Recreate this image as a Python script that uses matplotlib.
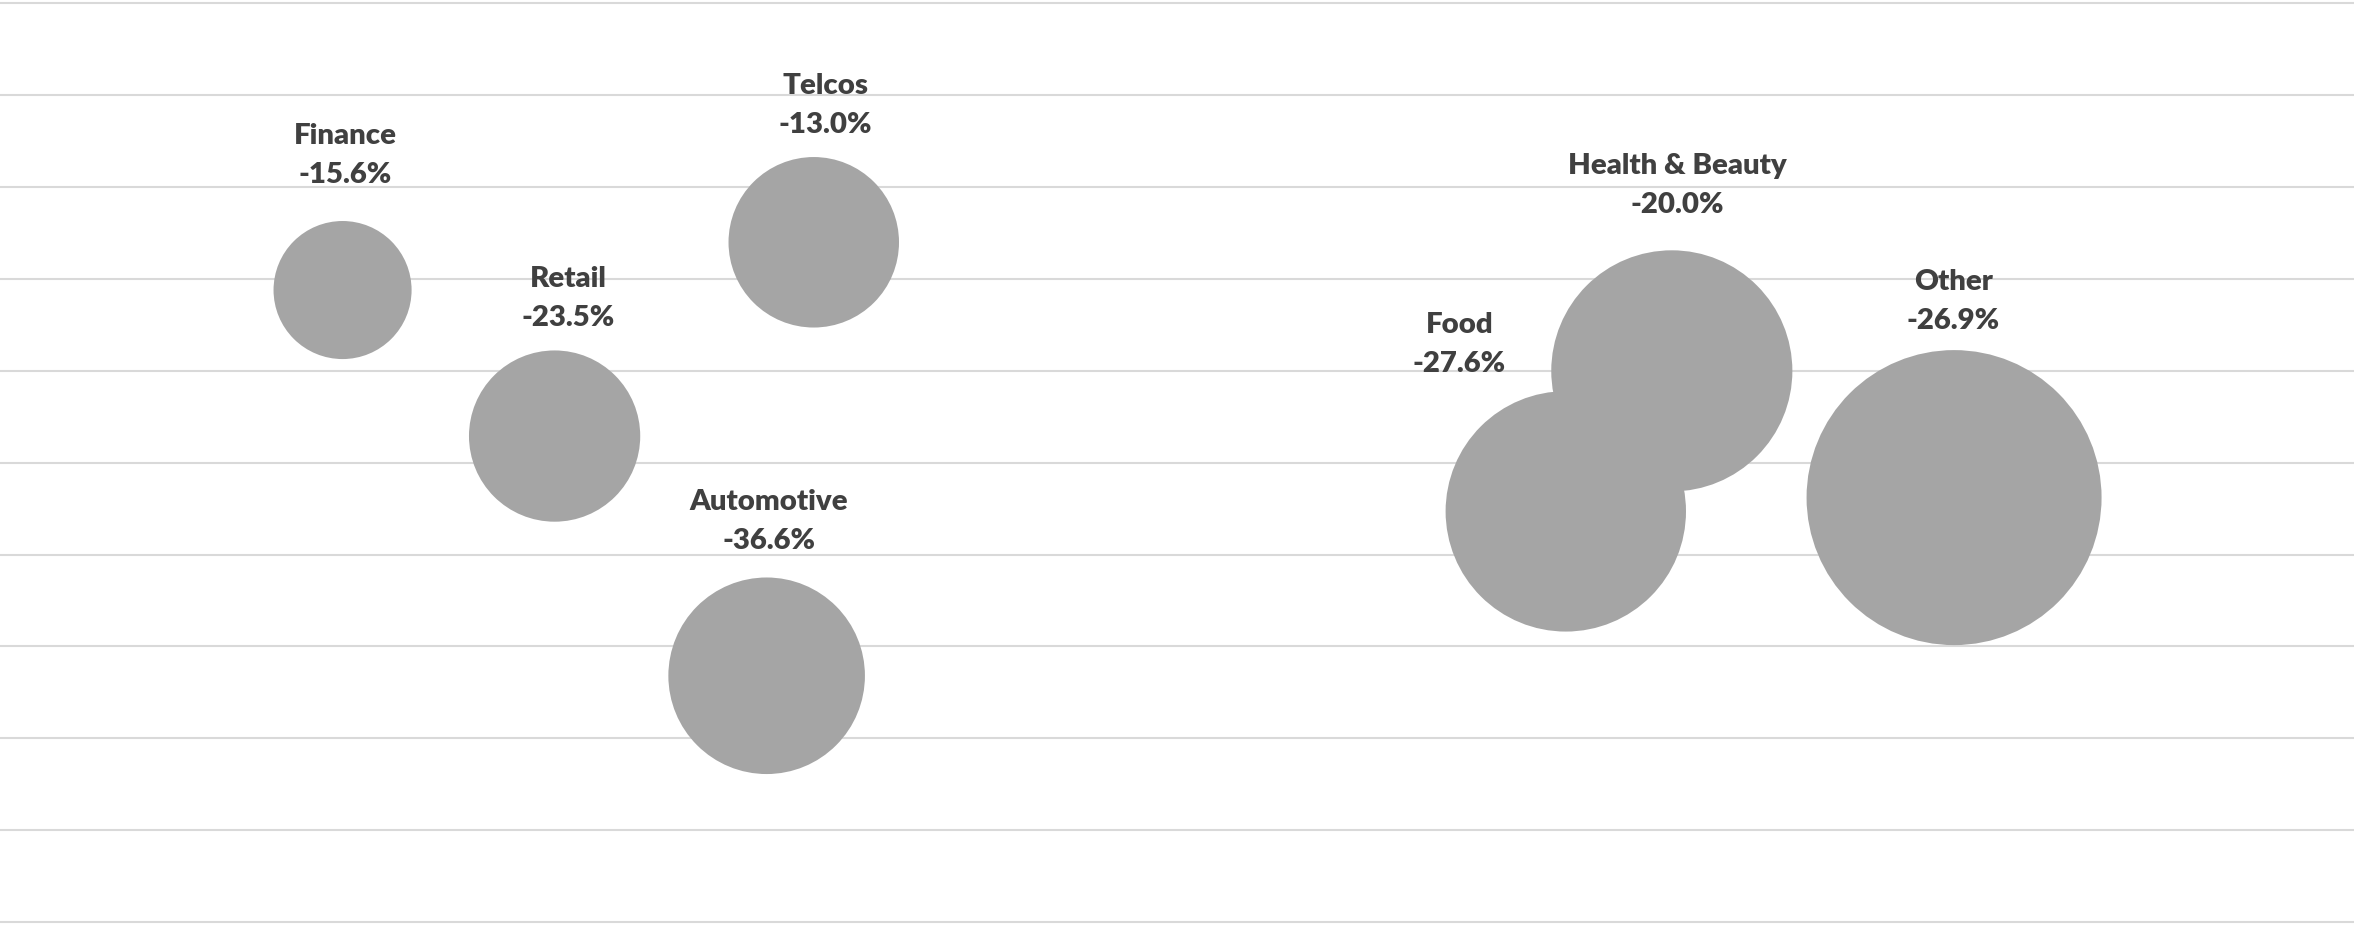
import matplotlib
matplotlib.use("Agg")
import matplotlib.pyplot as plt

# ---- data ----
categories = ["Finance", "Retail", "Telcos", "Automotive", "Food", "Health & Beauty", "Other"]
x_vals = [14.54, 23.54, 34.54, 32.54, 66.46, 70.96, 82.94]
y_vals = [6.88, 5.29, 7.40, 2.68, 4.47, 6.00, 4.62]
bubble_sizes = [21.9, 33.7, 33.4, 44.4, 66.4, 66.8, 100.0]
change_labels = ["-15.6%", "-23.5%", "-13.0%", "-36.6%", "-27.6%", "-20.0%", "-26.9%"]
y_ticks = list(range(0, 11))

# label offsets in pixels relative to bubble centre (dx, dy; dy positive = up)
label_dx = [2.4, 13.8, 11.3, 2.3, -106.3, 5.8, -1.0]
label_dy = [134.5, 137.5, 137.0, 154.0, 167.0, 185.5, 195.7]

W, H, DPI = 2356, 925, 100
fig = plt.figure(figsize=(W / DPI, H / DPI), dpi=DPI)
ax = fig.add_axes([0, 0, 1, 1])
ax.set_xlim(0, 100)
ax.set_ylim(-0.03375, 10.0381)
ax.axis("off")

ax.hlines(y_ticks, xmin=0.0, xmax=99.9, colors="#D9D9D9", linewidth=1.5, zorder=1)

# bubble area proportional to size; largest bubble radius 147.5 px
r_max_pt = 147.5 * 72 / DPI
sizes_pt2 = [(2 * r_max_pt) ** 2 * s / 100.0 for s in bubble_sizes]
ax.scatter(x_vals, y_vals, s=sizes_pt2, color="#A5A5A5", edgecolors="none", zorder=2)

font = dict(family=["Lato", "DejaVu Sans"], fontweight="heavy", fontsize=21.2, color="#404040")
line_gap = 19.5
for xv, yv, name, val, dx, dy in zip(x_vals, y_vals, categories, change_labels, label_dx, label_dy):
    ax.annotate(name, (xv, yv), xytext=(dx, dy + line_gap), textcoords="offset pixels",
                ha="center", va="center", zorder=3, **font)
    ax.annotate(val, (xv, yv), xytext=(dx, dy - line_gap), textcoords="offset pixels",
                ha="center", va="center", zorder=3, **font)

fig.savefig("out.png", dpi=DPI, facecolor="white")
